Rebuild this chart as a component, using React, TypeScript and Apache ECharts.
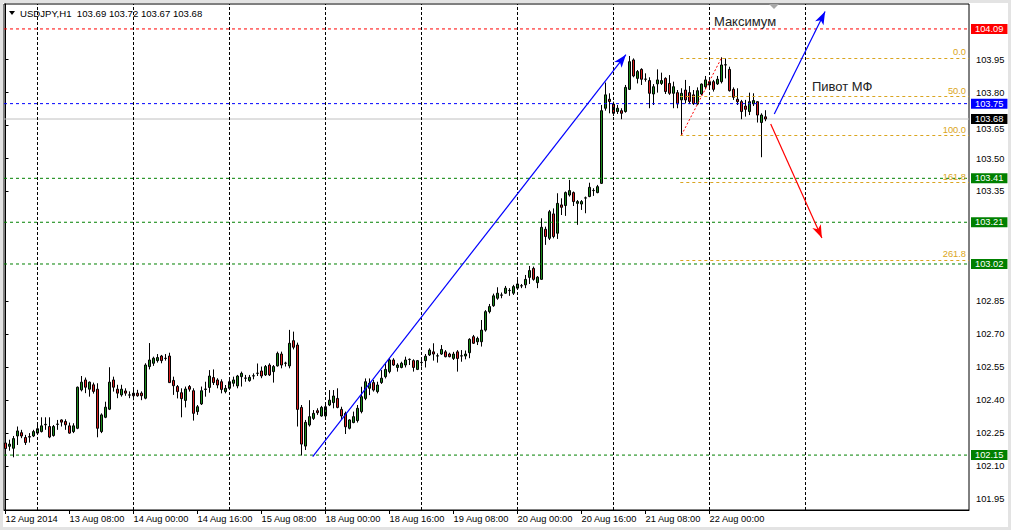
import React, { useEffect, useRef } from "react";
import * as echarts from "echarts";

// ---- OHLC data, USDJPY H1, bar 0 = 12 Aug 2014 16:00 ----
const OPEN = [
  102.205, 102.19, 102.181, 102.237, 102.252, 102.23, 102.234, 102.237, 102.25, 102.257,
  102.288, 102.28, 102.239, 102.29, 102.31, 102.303, 102.283, 102.257, 102.272, 102.447,
  102.492, 102.45, 102.47, 102.45, 102.257, 102.322, 102.359, 102.492, 102.45, 102.424,
  102.442, 102.423, 102.432, 102.432, 102.432, 102.409, 102.553, 102.568, 102.58, 102.601,
  102.59, 102.601, 102.49, 102.462, 102.434, 102.399, 102.462, 102.443, 102.348, 102.383,
  102.449, 102.458, 102.503, 102.492, 102.484, 102.439, 102.454, 102.477, 102.465, 102.507,
  102.5, 102.489, 102.51, 102.522, 102.533, 102.515, 102.56, 102.53, 102.556, 102.61,
  102.568, 102.556, 102.671, 102.651, 102.367, 102.191, 102.287, 102.317, 102.352, 102.328,
  102.328, 102.378, 102.389, 102.408, 102.358, 102.34, 102.272, 102.298, 102.307, 102.348,
  102.408, 102.454, 102.48, 102.439, 102.48, 102.507, 102.53, 102.583, 102.549, 102.549,
  102.56, 102.585, 102.58, 102.54, 102.571, 102.58, 102.606, 102.62, 102.601, 102.61,
  102.62, 102.61, 102.59, 102.62, 102.601, 102.601, 102.616, 102.689, 102.666, 102.666,
  102.719, 102.803, 102.83, 102.864, 102.878, 102.887, 102.899, 102.887, 102.91, 102.92,
  102.925, 102.959, 103.0, 102.935, 102.95, 103.178, 103.137, 103.248, 103.16, 103.289,
  103.286, 103.334, 103.345, 103.296, 103.293, 103.32, 103.327, 103.354, 103.345, 103.387,
  103.729, 103.77, 103.748, 103.714, 103.718, 103.714, 103.815, 103.949, 103.865, 103.906,
  103.861, 103.855, 103.794, 103.84, 103.842, 103.865, 103.842, 103.797, 103.8, 103.767,
  103.812, 103.8, 103.79, 103.748, 103.794, 103.827, 103.835, 103.85, 103.84, 103.85,
  103.926, 103.906, 103.815, 103.77, 103.759, 103.739, 103.714, 103.749, 103.759, 103.664,
  103.69,
];
const HIGH = [
  102.215, 102.22, 102.237, 102.28, 102.265, 102.242, 102.25, 102.265, 102.295, 102.322,
  102.322, 102.322, 102.287, 102.31, 102.313, 102.313, 102.298, 102.295, 102.462, 102.51,
  102.503, 102.485, 102.48, 102.477, 102.34, 102.393, 102.55, 102.507, 102.47, 102.47,
  102.454, 102.44, 102.447, 102.447, 102.44, 102.568, 102.66, 102.598, 102.61, 102.606,
  102.61, 102.616, 102.507, 102.469, 102.454, 102.462, 102.469, 102.454, 102.378, 102.462,
  102.484, 102.537, 102.54, 102.5, 102.495, 102.469, 102.5, 102.507, 102.515, 102.53,
  102.515, 102.515, 102.522, 102.567, 102.553, 102.56, 102.568, 102.56, 102.621, 102.621,
  102.575, 102.72, 102.712, 102.662, 102.378, 102.31, 102.4, 102.355, 102.363, 102.374,
  102.389, 102.446, 102.446, 102.454, 102.37, 102.348, 102.313, 102.348, 102.378, 102.461,
  102.499, 102.499, 102.492, 102.484, 102.537, 102.571, 102.591, 102.591, 102.568, 102.575,
  102.598, 102.59, 102.586, 102.583, 102.583, 102.61, 102.636, 102.659, 102.613, 102.651,
  102.628, 102.616, 102.62, 102.628, 102.628, 102.626, 102.682, 102.697, 102.689, 102.765,
  102.81, 102.838, 102.885, 102.914, 102.89, 102.92, 102.91, 102.925, 102.947, 102.929,
  102.97, 103.011, 103.008, 102.965, 103.228, 103.19, 103.266, 103.273, 103.342, 103.319,
  103.35, 103.403, 103.35, 103.311, 103.311, 103.327, 103.39, 103.365, 103.38, 103.744,
  103.846, 103.797, 103.759, 103.744, 103.729, 103.835, 103.967, 103.956, 103.903, 103.911,
  103.888, 103.87, 103.839, 103.906, 103.891, 103.87, 103.88, 103.85, 103.812, 103.82,
  103.858, 103.83, 103.812, 103.824, 103.842, 103.876, 103.865, 103.858, 103.876, 103.961,
  103.956, 103.918, 103.824, 103.82, 103.767, 103.767, 103.8, 103.797, 103.76, 103.706,
  103.72,
];
const LOW = [
  102.1, 102.17, 102.14, 102.196, 102.227, 102.196, 102.207, 102.232, 102.242, 102.253,
  102.265, 102.227, 102.234, 102.265, 102.28, 102.265, 102.247, 102.25, 102.268, 102.44,
  102.432, 102.416, 102.43, 102.231, 102.25, 102.318, 102.355, 102.439, 102.409, 102.416,
  102.42, 102.409, 102.4, 102.416, 102.4, 102.404, 102.54, 102.556, 102.571, 102.568,
  102.58, 102.478, 102.424, 102.408, 102.322, 102.367, 102.439, 102.307, 102.333, 102.378,
  102.416, 102.434, 102.469, 102.454, 102.431, 102.431, 102.446, 102.462, 102.454, 102.462,
  102.484, 102.484, 102.495, 102.51, 102.5, 102.51, 102.51, 102.48, 102.553, 102.545,
  102.553, 102.545, 102.631, 102.28, 102.148, 102.173, 102.28, 102.31, 102.333, 102.325,
  102.31, 102.373, 102.363, 102.363, 102.31, 102.246, 102.267, 102.295, 102.298, 102.34,
  102.4, 102.423, 102.439, 102.431, 102.474, 102.499, 102.522, 102.556, 102.53, 102.545,
  102.549, 102.56, 102.53, 102.537, 102.553, 102.549, 102.601, 102.58, 102.571, 102.606,
  102.595, 102.595, 102.583, 102.53, 102.575, 102.586, 102.591, 102.656, 102.651, 102.644,
  102.712, 102.795, 102.825, 102.857, 102.864, 102.884, 102.875, 102.879, 102.902, 102.91,
  102.91, 102.929, 102.944, 102.91, 102.95, 103.107, 103.129, 103.137, 103.134, 103.243,
  103.239, 103.327, 103.284, 103.198, 103.266, 103.251, 103.324, 103.33, 103.342, 103.384,
  103.718, 103.706, 103.694, 103.703, 103.679, 103.709, 103.812, 103.87, 103.842, 103.835,
  103.85, 103.729, 103.744, 103.8, 103.835, 103.794, 103.79, 103.729, 103.729, 103.607,
  103.751, 103.748, 103.744, 103.744, 103.789, 103.815, 103.824, 103.805, 103.835, 103.842,
  103.865, 103.805, 103.767, 103.744, 103.679, 103.691, 103.698, 103.739, 103.664, 103.506,
  103.67,
];
const CLOSE = [
  102.18, 102.2, 102.225, 102.26, 102.237, 102.207, 102.232, 102.257, 102.27, 102.283,
  102.29, 102.232, 102.28, 102.291, 102.3, 102.288, 102.25, 102.283, 102.459, 102.482,
  102.459, 102.482, 102.44, 102.272, 102.333, 102.368, 102.482, 102.459, 102.432, 102.45,
  102.432, 102.424, 102.42, 102.42, 102.42, 102.56, 102.583, 102.591, 102.594, 102.58,
  102.591, 102.48, 102.466, 102.439, 102.407, 102.451, 102.45, 102.34, 102.37, 102.443,
  102.451, 102.51, 102.48, 102.469, 102.449, 102.454, 102.484, 102.492, 102.51, 102.522,
  102.501, 102.504, 102.511, 102.523, 102.51, 102.553, 102.515, 102.553, 102.613, 102.56,
  102.569, 102.659, 102.641, 102.358, 102.2, 102.299, 102.325, 102.34, 102.343, 102.367,
  102.37, 102.4, 102.419, 102.367, 102.328, 102.279, 102.31, 102.325, 102.363, 102.416,
  102.484, 102.477, 102.446, 102.469, 102.5, 102.54, 102.583, 102.56, 102.56, 102.568,
  102.583, 102.586, 102.549, 102.58, 102.572, 102.6, 102.628, 102.61, 102.602, 102.631,
  102.598, 102.598, 102.61, 102.59, 102.602, 102.61, 102.677, 102.659, 102.681, 102.719,
  102.803, 102.826, 102.875, 102.887, 102.879, 102.91, 102.9, 102.917, 102.929, 102.921,
  102.95, 102.99, 102.95, 102.96, 103.187, 103.145, 103.258, 103.145, 103.296, 103.278,
  103.345, 103.354, 103.304, 103.304, 103.304, 103.321, 103.369, 103.355, 103.372, 103.718,
  103.79, 103.76, 103.706, 103.729, 103.706, 103.824, 103.941, 103.876, 103.896, 103.861,
  103.862, 103.797, 103.827, 103.858, 103.855, 103.805, 103.797, 103.827, 103.749, 103.797,
  103.767, 103.76, 103.75, 103.809, 103.839, 103.858, 103.85, 103.815, 103.861, 103.926,
  103.927, 103.809, 103.779, 103.759, 103.714, 103.724, 103.759, 103.764, 103.698, 103.698,
  103.68,
];

// ---- axes ----
const X_TICK_BARS = [0, 16, 32, 48, 64, 80, 96, 112, 128, 144, 160, 176];
const X_TICK_LABELS = [
  "12 Aug 2014", "13 Aug 08:00", "14 Aug 00:00", "14 Aug 16:00", "15 Aug 08:00", "18 Aug 00:00",
  "18 Aug 16:00", "19 Aug 08:00", "20 Aug 00:00", "20 Aug 16:00", "21 Aug 08:00", "22 Aug 00:00",
];
const DAY_SEPARATOR_BARS = [8, 32, 56, 80, 104, 128, 152, 176, 200];
const Y_TICKS = [101.95, 102.1, 102.25, 102.4, 102.55, 102.7, 102.85, 103.35, 103.5, 103.65, 103.8, 103.95];
const X_MIN = -0.375;
const X_MAX = 240.875;
const Y_MIN = 101.9;
const Y_MAX = 104.2036;

// ---- horizontal levels ----
const LEVEL_VALUES = [104.09, 103.75, 103.41, 103.21, 103.02, 102.15];
const LEVEL_COLORS = ["#ff0000", "#0000ff", "#008000", "#008000", "#008000", "#008000"];
const BID_PRICE = 103.68;

// ---- Fibonacci ----
const FIB_HIGH = 103.958;
const FIB_LOW = 103.607;
const FIB_RATIOS = [0, 0.5, 1, 1.618, 2.618];
const FIB_START_BAR = 168.7;
const FIB_TREND = [[169, 103.607], [179, 103.958]];

// ---- arrows (bar, price) ----
const BLUE_ARROWS = [
  [[76.8, 102.143], [155.1, 103.973]],
  [[192.2, 103.703], [204.9, 104.169]],
];
const RED_ARROWS = [[[191.3, 103.657], [204.1, 103.138]]];

// ---- text notes (bar, price) ----
const NOTE_TEXTS = ["Максимум", "Пивот МФ"];
const NOTE_ANCHORS = [[177.1, 104.122], [201.6, 103.83]];

const HEADER = "USDJPY,H1  103.69 103.72 103.67 103.68";
const FONT = '"Liberation Sans", Arial, sans-serif';
const SMALL = 9.3;

export default function App() {
  const ref = useRef<HTMLDivElement>(null);

  useEffect(() => {
    if (!ref.current) return;
    const chart = echarts.init(ref.current, null, { renderer: "svg" });

    const candles = OPEN.map((o, i) => [i, o, CLOSE[i], LOW[i], HIGH[i]]);
    const dash = [3, 3];

    const priceTag = (text: string, bg: string) => ({
      show: true,
      formatter: text,
      color: "#ffffff",
      backgroundColor: bg,
      padding: [1, 4, 0, 4],
      fontSize: SMALL,
      lineHeight: 9,
      fontFamily: FONT,
      distance: 2,
    });

    // horizontal price levels drawn as 2-point line series through the axis scales
    const hLine = (v: number, color: string, type: any, tagBg: string, z: number) => ({
      type: "line",
      data: [[X_MIN, v], [X_MAX, v]],
      z,
      silent: true,
      color,
      symbol: "none",
      showSymbol: false,
      clip: false,
      lineStyle: { color, type, width: 1 },
      endLabel: priceTag(v.toFixed(2), tagBg),
      emphasis: { disabled: true },
    });

    const levelSeries = LEVEL_VALUES.map((v, i) => hLine(v, LEVEL_COLORS[i], dash, LEVEL_COLORS[i], 3));

    const fibLines = FIB_RATIOS.map((r) => {
      const p = FIB_HIGH - r * (FIB_HIGH - FIB_LOW);
      const name = (r * 100).toFixed(1);
      return [
        { coord: [FIB_START_BAR, p], name },
        { coord: [X_MAX, p], name },
      ];
    });

    const arrowSeries = (list: number[][][], color: string) => ({
      type: "line",
      data: [],
      z: 4,
      silent: true,
      color,
      markLine: {
        silent: true,
        symbol: ["none", "arrow"],
        symbolSize: [7, 13],
        animation: false,
        lineStyle: { color, type: "solid", width: 1.2 },
        itemStyle: { color },
        label: { show: false },
        data: list.map((seg) => [{ coord: seg[0] }, { coord: seg[1] }]),
      },
    });

    const option: any = {
      animation: false,
      backgroundColor: "#ffffff",
      grid: {
        left: 4,
        top: 4,
        right: 42,
        bottom: 20,
        show: true,
        borderColor: "#000000",
        borderWidth: 1,
        backgroundColor: "#ffffff",
      },
      xAxis: {
        type: "value",
        min: X_MIN,
        max: X_MAX,
        position: "bottom",
        axisLine: { show: true, lineStyle: { color: "#000", width: 1 } },
        axisTick: { show: true, customValues: X_TICK_BARS, length: 4, lineStyle: { color: "#000" } },
        axisLabel: {
          show: true,
          customValues: X_TICK_BARS,
          formatter: (v: number) => {
            const k = X_TICK_BARS.indexOf(Math.round(v));
            return k >= 0 ? X_TICK_LABELS[k] : "";
          },
          align: "left",
          margin: 4,
          fontSize: SMALL,
          fontFamily: FONT,
          color: "#000",
        },
        splitLine: { show: false },
      },
      yAxis: {
        type: "value",
        position: "right",
        min: Y_MIN,
        max: Y_MAX,
        scale: true,
        axisLine: { show: true, lineStyle: { color: "#000", width: 1 } },
        axisTick: { show: true, customValues: Y_TICKS, length: 3, lineStyle: { color: "#000" } },
        axisLabel: {
          show: true,
          customValues: Y_TICKS,
          formatter: (v: number) => {
            const s = v.toFixed(2);
            // the tick just under the bid tag sits a little lower, as in the terminal
            return Math.abs(v - BID_PRICE) < 0.05 ? "{low|" + s + "}" : s;
          },
          rich: { low: { padding: [7, 0, 0, 0], fontSize: SMALL, fontFamily: FONT, color: "#000" } },
          margin: 7,
          fontSize: SMALL,
          fontFamily: FONT,
          color: "#000",
        },
        splitLine: { show: false },
      },
      series: [
        {
          type: "line",
          data: [],
          z: 1,
          silent: true,
          color: "#000000",
          markLine: {
            silent: true,
            symbol: ["none", "none"],
            animation: false,
            lineStyle: { color: "#000000", type: [3, 2], width: 1 },
            label: { show: false },
            data: DAY_SEPARATOR_BARS.map((b) => ({ xAxis: b })),
          },
        },
        hLine(BID_PRICE, "#c0c0c0", "solid", "#000000", 1),
        {
          type: "candlestick",
          z: 2,
          data: candles,
          encode: { x: 0, y: [1, 2, 3, 4] },
          barWidth: 2,
          itemStyle: {
            color: "#1b8a1b",
            color0: "#d81e1e",
            borderColor: "#000000",
            borderColor0: "#000000",
            borderColorDoji: "#000000",
            borderWidth: 1,
          },
        },
        ...levelSeries,
        {
          type: "line",
          data: [],
          z: 3,
          silent: true,
          color: "#daa520",
          markLine: {
            silent: true,
            symbol: ["none", "none"],
            animation: false,
            lineStyle: { color: "#daa520", type: dash, width: 1 },
            label: {
              show: true,
              position: "insideEndTop",
              formatter: "{b}",
              color: "#daa520",
              fontSize: SMALL,
              fontFamily: FONT,
              distance: [3, 1],
            },
            data: fibLines,
          },
        },
        {
          type: "line",
          data: [],
          z: 3,
          silent: true,
          color: "#ff0000",
          markLine: {
            silent: true,
            symbol: ["none", "none"],
            animation: false,
            lineStyle: { color: "#ff0000", type: [2, 2], width: 1 },
            label: { show: false },
            data: [[{ coord: FIB_TREND[0] }, { coord: FIB_TREND[1] }]],
          },
        },
        arrowSeries(BLUE_ARROWS, "#0000ff"),
        arrowSeries(RED_ARROWS, "#ff0000"),
      ],
    };

    chart.setOption(option);

    const notes = NOTE_TEXTS.map((t, i) => {
      const pt = chart.convertToPixel({ gridIndex: 0 }, NOTE_ANCHORS[i]) as number[];
      return {
        type: "text",
        x: pt[0],
        y: pt[1],
        z: 20,
        silent: true,
        style: {
          text: t,
          fill: "#222222",
          fontSize: 13,
          fontFamily: FONT,
          align: "left",
          verticalAlign: "middle",
        },
      };
    });

    const frameGray = "#e3e3e3";
    chart.setOption({
      graphic: [
        { type: "rect", shape: { x: 0, y: 0, width: 1011, height: 3 }, style: { fill: frameGray }, silent: true, z: 30 },
        { type: "rect", shape: { x: 0, y: 0, width: 3, height: 530 }, style: { fill: frameGray }, silent: true, z: 30 },
        { type: "rect", shape: { x: 1008, y: 0, width: 3, height: 530 }, style: { fill: frameGray }, silent: true, z: 30 },
        { type: "rect", shape: { x: 0, y: 527, width: 1011, height: 3 }, style: { fill: frameGray }, silent: true, z: 30 },
        {
          type: "polygon",
          shape: { points: [[9, 11], [15, 11], [12, 15]] },
          style: { fill: "#000" },
          silent: true,
          z: 20,
        },
        {
          type: "text",
          x: 20,
          y: 13,
          z: 20,
          silent: true,
          style: {
            text: HEADER,
            fill: "#000",
            fontSize: 9.6,
            fontFamily: FONT,
            align: "left",
            verticalAlign: "middle",
          },
        },
        {
          type: "polygon",
          shape: { points: [[769, 4], [779, 4], [774, 9]] },
          style: { fill: "#a8a8a8" },
          silent: true,
          z: 20,
        },
        ...notes,
      ],
    });

    return () => chart.dispose();
  }, []);

  return (
    <div
      ref={ref}
      style={{ position: "fixed", left: 0, top: 0, width: 1011, height: 530 }}
    />
  );
}
